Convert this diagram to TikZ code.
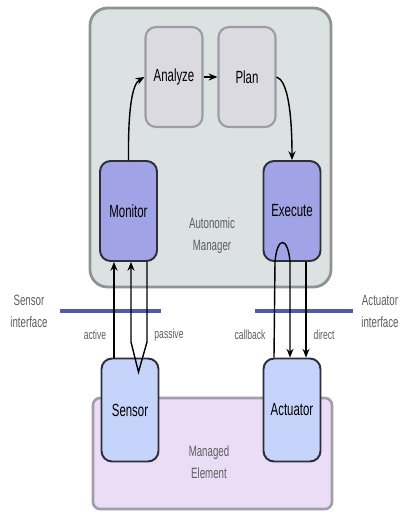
\documentclass[tikz,border=0pt]{standalone}
\usepackage{fontspec}
\setmainfont[FakeStretch=0.65]{Liberation Sans}
\usepackage{xcolor}
\usetikzlibrary{arrows.meta}

\definecolor{mgrfill}{HTML}{DCE1E1}
\definecolor{mgrdraw}{HTML}{8E9393}
\definecolor{phasefill}{HTML}{DADAE0}
\definecolor{phasedraw}{HTML}{9C9CA4}
\definecolor{loopfill}{HTML}{A0A3E6}
\definecolor{touchfill}{HTML}{C6D3FA}
\definecolor{boxdraw}{HTML}{2E2E3A}
\definecolor{elemfill}{HTML}{EBDDF6}
\definecolor{elemdraw}{HTML}{A39CAB}
\definecolor{ifaceblue}{HTML}{4F5BAF}
\definecolor{labelgray}{HTML}{5E5E5E}

\tikzset{
  phase/.style={draw=phasedraw, fill=phasefill, line width=1.2pt, rounded corners=6pt,
    minimum width=1.14cm, minimum height=2.0cm, inner sep=0pt, font=\fontsize{10}{12}\selectfont},
  loopbox/.style={phase, draw=boxdraw, fill=loopfill, line width=1.1pt},
  touchbox/.style={phase, draw=boxdraw, fill=touchfill, line width=1.1pt, minimum height=2.06cm},
  flow/.style={line width=0.8pt, -{Stealth[length=5pt,width=4pt]}},
  greylabel/.style={text=labelgray, font=\fontsize{8.5}{12.5}\selectfont, align=center},
  small/.style={text=labelgray, font=\fontsize{7.5}{9}\selectfont}
}

\begin{document}
\begin{tikzpicture}[x=0.02cm, y=-0.02cm]
\useasboundingbox (0,0) rectangle (401,512);

% Managed element
\draw[fill=elemfill, draw=elemdraw, line width=1.5pt, rounded corners=4pt] (93,398) rectangle (332,509);
\node[greylabel] (elemtext) at (209,462) {Managed\\Element};

% Autonomic manager
\draw[fill=mgrfill, draw=mgrdraw, line width=1.6pt, rounded corners=10pt] (90,8) rectangle (331,287);
\node[greylabel] (mgrtext) at (212,236) {Autonomic\\Manager};

% MAPE nodes
\node[phase] (analyze) at (174,77) {Analyze};
\node[phase] (plan) at (247,77) {Plan};
\node[loopbox] (monitor) at (128.5,211) {Monitor};
\node[loopbox] (execute) at (292,211) {Execute};

% Touchpoints
\node[touchbox] (sensor) at (130,410) {Sensor};
\node[touchbox] (actuator) at (292,410) {Actuator};

% Interfaces
\coordinate (sl) at (60,311);
\coordinate (sr) at (161,311);
\coordinate (al) at (255,311);
\coordinate (ar) at (353,311);
\draw[ifaceblue, line width=1.8pt] (sl) -- (sr);
\draw[ifaceblue, line width=1.8pt] (al) -- (ar);
\node[greylabel] (sensoriface) at (29,311) {Sensor\\interface};
\node[greylabel] (actiface) at (380,311) {Actuator\\interface};

% Loop
\draw[flow] (monitor.north) .. controls (128,110) and (132,84) .. (analyze.west);
\draw[flow] (analyze) -- (plan);
\draw[flow] (plan.east) .. controls (287,80) and (292,110) .. (execute.north);

% Sensor side
\draw[flow] (sensor.north -| 114,0) -- (monitor.south -| 114,0);
\draw[flow] (monitor.south -| 147,0) -- (147,342) -- (138.5,372) -- (131,342) -- (monitor.south -| 131,0);
\node[small] (active) at (95,335) {active};
\node[small] (passive) at (169,335) {passive};

% Actuator side
\draw[flow] (actuator.north -| 274,0) -- (275,262) .. controls (277,236) and (288,236) .. (290,262) -- (actuator.north -| 290,0);
\draw[flow] (execute.south -| 306,0) -- (actuator.north -| 306,0);
\node[small] (callback) at (250,335) {callback};
\node[small] (direct) at (324,335) {direct};

\end{tikzpicture}
\end{document}
